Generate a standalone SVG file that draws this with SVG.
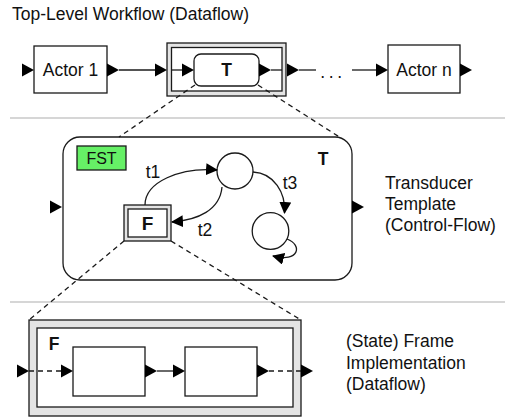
<svg xmlns="http://www.w3.org/2000/svg" xmlns:xlink="http://www.w3.org/1999/xlink" width="505" height="418" viewBox="0 0 505 418">
<style>
text{font-family:"Liberation Sans",Arial,sans-serif;fill:#111}
.lbl{font-size:17.5px}
.b{font-weight:bold}
.box{fill:#fff;stroke:#1a1a1a;stroke-width:1.3}
.ring{fill:#e4e4e4;stroke:#1a1a1a;stroke-width:1.3}
.ln{fill:none;stroke:#1a1a1a;stroke-width:1.3}
.dash{fill:none;stroke:#1a1a1a;stroke-width:1.3;stroke-dasharray:5 4}
.sep{stroke:#c8c8c8;stroke-width:1.3}
.port{fill:#000}
</style>
<defs>
<path id="port" d="M0,-6.5 L12,0 L0,6.5Z" class="port"/>
<marker id="ah" viewBox="0 0 12 12" refX="11" refY="6" markerWidth="12" markerHeight="12" markerUnits="userSpaceOnUse" orient="auto">
<path d="M0,0 L12,6 L0,12Z" fill="#000"/>
</marker>
</defs>

<text class="lbl" x="12" y="20">Top-Level Workflow (Dataflow)</text>
<line class="sep" x1="10" y1="118" x2="505" y2="118"/>
<line class="sep" x1="10" y1="302" x2="505" y2="302"/>

<!-- Top level -->
<g id="actor1">
<rect class="box" x="34" y="46" width="73" height="47"/>
<text class="lbl" x="70.5" y="76" text-anchor="middle">Actor 1</text>
<use xlink:href="#port" x="22" y="70"/>
<use xlink:href="#port" x="107" y="70"/>
</g>
<g id="composite-T">
<rect class="ring" x="167" y="43" width="119" height="53"/>
<rect class="box" x="171.5" y="47.5" width="110.5" height="43.5"/>
<use xlink:href="#port" x="155" y="70"/>
<use xlink:href="#port" x="287" y="70"/>
</g>
<g id="T">
<rect class="box" x="194" y="54" width="65" height="32" rx="7"/>
<text class="lbl b" x="226.5" y="76" text-anchor="middle">T</text>
<use xlink:href="#port" x="182" y="70"/>
<use xlink:href="#port" x="259" y="70"/>
</g>
<g id="actorn">
<rect class="box" x="388" y="45" width="72" height="48"/>
<text class="lbl" x="424" y="76" text-anchor="middle">Actor n</text>
<use xlink:href="#port" x="376" y="70"/>
<use xlink:href="#port" x="460" y="70"/>
</g>

<!-- T region -->
<g id="T-template">
<rect class="box" x="63" y="137" width="289" height="143" rx="17"/>
<text class="lbl b" x="323" y="165" text-anchor="middle">T</text>
<use xlink:href="#port" x="50" y="207"/>
<use xlink:href="#port" x="352" y="207"/>
</g>
<g id="FST">
<rect x="77" y="146" width="49" height="24" fill="#66f066" stroke="#1a1a1a" stroke-width="1.3"/>
<text x="101.5" y="164" text-anchor="middle" font-size="16">FST</text>
</g>
<g id="s1"><circle class="box" cx="235" cy="171" r="18"/></g>
<g id="s2"><circle class="box" cx="270.5" cy="231" r="18.3"/></g>
<g id="F-state">
<rect class="ring" x="124" y="205" width="47" height="36"/>
<rect class="box" x="128" y="209" width="39" height="28"/>
<text class="b" x="147.5" y="230" text-anchor="middle" font-size="19">F</text>
</g>

<!-- F region -->
<g id="F-frame">
<rect class="ring" x="29" y="320" width="272" height="96"/>
<rect class="box" x="37" y="328" width="256" height="79"/>
<text class="lbl b" x="54" y="350" text-anchor="middle">F</text>
<use xlink:href="#port" x="17" y="371"/>
<use xlink:href="#port" x="301" y="371"/>
</g>
<g id="boxA">
<rect class="box" x="73" y="347" width="72" height="49"/>
<use xlink:href="#port" x="61" y="371"/>
<use xlink:href="#port" x="145" y="371"/>
</g>
<g id="boxB">
<rect class="box" x="185" y="347" width="72" height="49"/>
<use xlink:href="#port" x="173" y="371"/>
<use xlink:href="#port" x="257" y="371"/>
</g>

<g id="labels">
<text class="lbl" x="385" y="189">Transducer</text>
<text class="lbl" x="385" y="210">Template</text>
<text class="lbl" x="385" y="231">(Control-Flow)</text>
<text class="lbl" x="346" y="347">(State) Frame</text>
<text class="lbl" x="346" y="369">Implementation</text>
<text class="lbl" x="346" y="390">(Dataflow)</text>
</g>

<g id="connectors">
<line class="ln" x1="119" y1="70" x2="155" y2="70"/>
<line class="ln" x1="171" y1="70" x2="182" y2="70"/>
<line class="ln" x1="271" y1="70" x2="282" y2="70"/>
<line class="ln" x1="299" y1="70" x2="316" y2="70"/>
<text x="333" y="78" text-anchor="middle" font-size="17.5" letter-spacing="3.6">...</text>
<line class="ln" x1="352" y1="70" x2="376" y2="70"/>
<line class="dash" x1="195" y1="85" x2="119" y2="137"/>
<line class="dash" x1="258" y1="85" x2="341" y2="138"/>
<path class="ln" d="M145,205 C145,182 180,167 217,170" marker-end="url(#ah)"/>
<path class="ln" d="M222,187 C220,210 198,220 172,222" marker-end="url(#ah)"/>
<path class="ln" d="M253,172 C274,173 286,193 284.5,213" marker-end="url(#ah)"/>
<path class="ln" d="M287,239 C303,245 299,263 273,256" marker-end="url(#ah)"/>
<text class="lbl" x="153" y="178" text-anchor="middle">t1</text>
<text class="lbl" x="205" y="236" text-anchor="middle">t2</text>
<text class="lbl" x="290" y="189" text-anchor="middle">t3</text>
<line class="dash" x1="124" y1="241" x2="29" y2="320"/>
<line class="dash" x1="171" y1="241" x2="301" y2="320"/>
<line class="dash" x1="29" y1="371" x2="61" y2="371"/>
<line class="ln" x1="157" y1="371" x2="173" y2="371"/>
<line class="dash" x1="269" y1="371" x2="301" y2="371"/>
</g>
</svg>
